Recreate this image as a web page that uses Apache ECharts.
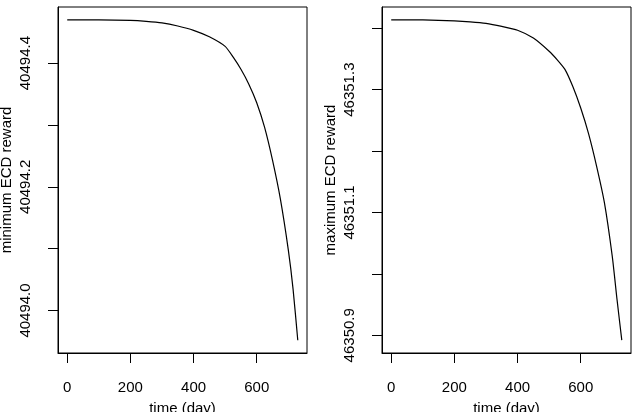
<!DOCTYPE html>
<html>
<head>
<meta charset="utf-8">
<script src="https://cdn.jsdelivr.net/npm/echarts@6/dist/echarts.min.js"></script>
<style>
  html, body { margin: 0; padding: 0; background: #fff; }
  #chart { width: 636px; height: 412px; }
</style>
</head>
<body>
<div id="chart"></div>
<script>
// time (day) at which the curves were read
var days = [0, 100, 200, 250, 300, 350, 400, 450, 500, 525, 550, 575, 600, 625, 650, 675, 700, 715, 730];
// minimum ECD reward
var minReward = [40494.470, 40494.4698, 40494.469, 40494.4675, 40494.465, 40494.460, 40494.453,
                 40494.4425, 40494.427, 40494.410, 40494.390, 40494.366, 40494.336, 40494.296,
                 40494.243, 40494.180, 40494.098, 40494.035, 40493.952];
// maximum ECD reward
var maxReward = [46351.4137, 46351.4135, 46351.412, 46351.4105, 46351.408, 46351.403, 46351.3967,
                 46351.384, 46351.3626, 46351.349, 46351.333, 46351.305, 46351.270, 46351.228,
                 46351.176, 46351.116, 46351.028, 46350.958, 46350.892];

var xTicks = [0, 200, 400, 600];
var minTicks = [40494.0, 40494.1, 40494.2, 40494.3, 40494.4];
var minLabels = [40494.0, 40494.2, 40494.4];
var maxTicks = [46350.9, 46351.0, 46351.1, 46351.2, 46351.3, 46351.4];
var maxLabels = [46350.9, 46351.1, 46351.3];

(function() {
    var chart = echarts.init(document.getElementById('chart'), null, { renderer: 'canvas' });
    var font = 'Liberation Sans, Arial, Helvetica, sans-serif';

    // R style range: data range extended by 4% on each side
    function rng(arr) {
        var lo = Math.min.apply(null, arr), hi = Math.max.apply(null, arr);
        var d = (hi - lo) * 0.04;
        return [lo - d, hi + d];
    }
    var xr = rng(days), r1 = rng(minReward), r2 = rng(maxReward);

    function xAxis(idx) {
        return {
            type: 'value', gridIndex: idx, min: xr[0], max: xr[1],
            name: 'time (day)', nameLocation: 'middle', nameGap: 48,
            nameTextStyle: { color: '#000', fontSize: 15, fontFamily: font },
            axisLine: { show: true, onZero: false, lineStyle: { color: '#000', width: 1 } },
            axisTick: { show: true, inside: false, length: 10, lineStyle: { color: '#000' }, customValues: xTicks },
            axisLabel: { color: '#000', fontSize: 15, fontFamily: font, margin: 27, customValues: xTicks },
            splitLine: { show: false }
        };
    }
    function yAxis(idx, r, name, ticks, labels) {
        return {
            type: 'value', gridIndex: idx, min: r[0], max: r[1],
            name: name, nameLocation: 'middle', nameGap: 44,
            nameTextStyle: { color: '#000', fontSize: 15, fontFamily: font },
            axisLine: { show: true, onZero: false, lineStyle: { color: '#000', width: 1 } },
            axisTick: { show: true, inside: false, length: 10, lineStyle: { color: '#000' }, customValues: ticks },
            axisLabel: {
                color: '#000', fontSize: 15, fontFamily: font, rotate: 90, margin: 25,
                customValues: labels,
                formatter: function(v) { return v.toFixed(1); }
            },
            splitLine: { show: false }
        };
    }

    chart.setOption({
        animation: false,
        backgroundColor: '#fff',
        grid: [
            { left: 58, top: 7, width: 249, height: 346, show: true, borderColor: '#000', borderWidth: 1,
              outerBoundsMode: 'none', containLabel: false },
            { left: 382, top: 7, width: 249, height: 346, show: true, borderColor: '#000', borderWidth: 1,
              outerBoundsMode: 'none', containLabel: false }
        ],
        xAxis: [xAxis(0), xAxis(1)],
        yAxis: [
            yAxis(0, r1, 'minimum ECD reward', minTicks, minLabels),
            yAxis(1, r2, 'maximum ECD reward', maxTicks, maxLabels)
        ],
        series: [
            {
                type: 'line', xAxisIndex: 0, yAxisIndex: 0, smooth: 0.2, showSymbol: false,
                lineStyle: { color: '#000', width: 1.2 },
                data: days.map(function(d, i) { return [d, minReward[i]]; })
            },
            {
                type: 'line', xAxisIndex: 1, yAxisIndex: 1, smooth: 0.2, showSymbol: false,
                lineStyle: { color: '#000', width: 1.2 },
                data: days.map(function(d, i) { return [d, maxReward[i]]; })
            }
        ]
    });
})();
</script>
</body>
</html>
